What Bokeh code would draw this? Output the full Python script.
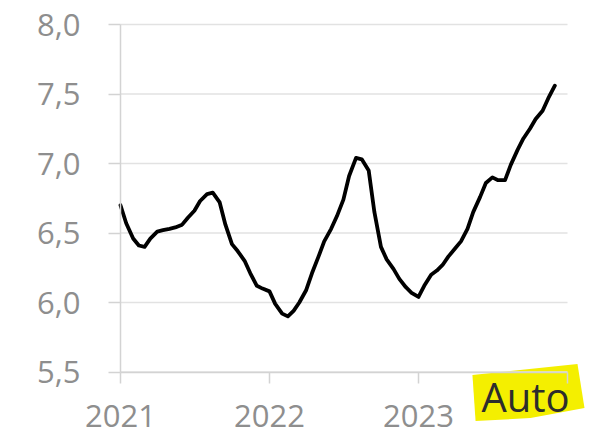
import pandas as pd
from bokeh.plotting import figure
from bokeh.models import FixedTicker, Label, Range1d, PolyAnnotation, LinearAxis
from bokeh.embed import file_html
from bokeh.resources import INLINE

# Half-monthly observations, Jan 2021 - Dec 2023
dates = pd.date_range("2021-01-01", periods=71, freq="SMS")
values = [6.70, 6.57, 6.46, 6.41, 6.40, 6.46, 6.51, 6.52, 6.53, 6.54,
          6.56, 6.61, 6.66, 6.73, 6.78, 6.79, 6.72, 6.56, 6.42, 6.37,
          6.30, 6.21, 6.12, 6.10, 6.08, 5.99, 5.92, 5.90, 5.94, 6.00,
          6.09, 6.21, 6.33, 6.44, 6.53, 6.62, 6.74, 6.91, 7.04, 7.03,
          6.95, 6.65, 6.40, 6.31, 6.24, 6.17, 6.11, 6.07, 6.04, 6.12,
          6.20, 6.23, 6.27, 6.33, 6.39, 6.44, 6.53, 6.65, 6.76, 6.86,
          6.90, 6.88, 6.88, 6.99, 7.10, 7.18, 7.25, 7.32, 7.38, 7.47,
          7.56]

y_ticks = [5.5, 6.0, 6.5, 7.0, 7.5, 8.0]
y_tick_labels = ["5,5", "6,0", "6,5", "7,0", "7,5", "8,0"]
x_ticks = [2021, 2022, 2023, 2024]
x_tick_labels = ["2021", "2022", "2023", ""]
badge_text = "Auto"

x = [d.year + (d.dayofyear - 1) / 365.0 for d in dates]

# The frame fills the whole canvas: 149 px per year (2021 at x=120),
# 139 px per unit (8.0 at y=24, 5.5 at y=372).
W, H = 595, 435
PX_YEAR, PX_UNIT = 149.0, 139.0
p = figure(width=W, height=H,
           x_range=Range1d(2021 - 120 / PX_YEAR, 2021 + (W - 120) / PX_YEAR),
           y_range=Range1d(8.0 - (H - 24) / PX_UNIT, 8.0 + 24 / PX_UNIT),
           output_backend="svg", toolbar_location=None,
           min_border_left=0, min_border_right=0,
           min_border_top=0, min_border_bottom=0,
           x_axis_location=None, y_axis_location=None)
p.outline_line_color = None
p.background_fill_color = "white"
p.border_fill_color = "white"
p.xgrid.visible = False
p.ygrid.visible = False

label_font = "Open Sans"
gray = "#8e8e8e"
axis_gray = "#d3d3d3"
grid_gray = "#e2e2e2"

yaxis = LinearAxis(ticker=FixedTicker(ticks=y_ticks), bounds=(y_ticks[0], y_ticks[-1]),
                   fixed_location=x_ticks[0])
yaxis.major_label_overrides = {t: l for t, l in zip(y_ticks, y_tick_labels)}
yaxis.major_tick_out = 12
yaxis.major_label_standoff = 28

xaxis = LinearAxis(ticker=FixedTicker(ticks=x_ticks), bounds=(x_ticks[0], x_ticks[-1]),
                   fixed_location=y_ticks[0])
xaxis.major_label_overrides = {t: l for t, l in zip(x_ticks, x_tick_labels)}
xaxis.major_tick_out = 11
xaxis.major_label_standoff = 22

for ax in (xaxis, yaxis):
    ax.axis_line_color = axis_gray
    ax.axis_line_width = 1.5
    ax.major_tick_line_color = axis_gray
    ax.major_tick_line_width = 1.5
    ax.major_tick_in = 0
    ax.minor_tick_line_color = None
    ax.major_label_text_font = label_font
    ax.major_label_text_font_size = "31px"
    ax.major_label_text_color = gray

p.add_layout(yaxis, "left")
p.add_layout(xaxis, "below")

badge = PolyAnnotation(xs=[2023.362, 2024.067, 2024.114, 2023.752, 2023.383],
                       ys=[5.478, 5.558, 5.241, 5.169, 5.147],
                       fill_color="#f4ef00", fill_alpha=1.0, line_color=None,
                       level="underlay")
p.add_layout(badge)

# horizontal grid lines at the y ticks, spanning the x-axis extent
p.segment(x0=[x_ticks[0]] * len(y_ticks), x1=[x_ticks[-1]] * len(y_ticks),
          y0=y_ticks, y1=y_ticks, line_color=grid_gray, line_width=1.5)

p.line(x, values, line_color="black", line_width=3.8, line_join="round", line_cap="round")

p.add_layout(Label(x=2023.423, y=5.327, text=badge_text, text_align="left",
                   text_baseline="alphabetic", text_font=label_font,
                   text_font_size="40px", text_color="#2d2d2d"))

open("out.html", "w").write(file_html(p, INLINE))
